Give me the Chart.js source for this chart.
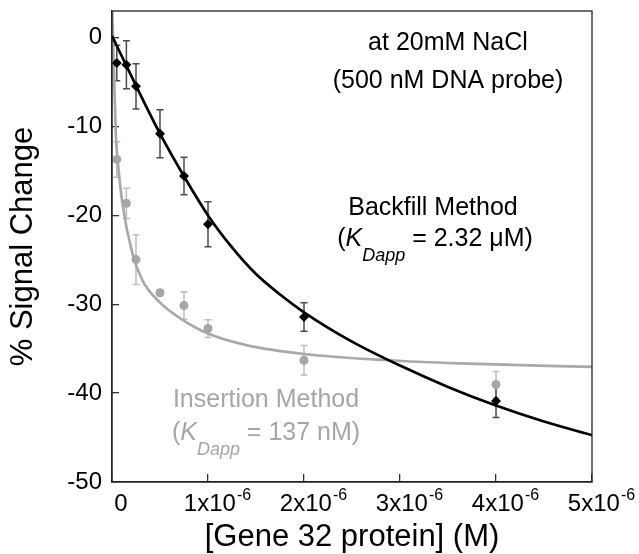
<!DOCTYPE html>
<html>
<head>
<meta charset="utf-8">
<script src="https://cdn.jsdelivr.net/npm/chart.js@4/dist/chart.umd.min.js"></script>
<style>
html,body{margin:0;padding:0;background:#fff;}
canvas{display:block;}
</style>
</head>
<body>
<canvas id="c" width="639" height="554"></canvas>
<script>
// ---- data ----
const concentrations = [0.05e-6, 0.15e-6, 0.25e-6, 0.5e-6, 0.75e-6, 1.0e-6, 2.0e-6, 4.0e-6];
const backfillSignal = [-2.85, -3.04, -5.48, -10.8, -15.57, -21.0, -31.43, -40.88];
const backfillError  = [2.0, 2.7, 2.55, 2.7, 2.1, 2.53, 1.6, 1.87];
const insertionSignal = [-13.7, -18.64, -24.97, -28.7, -30.15, -32.73, -36.3, -39.03];
const insertionError  = [2.0, 1.7, 2.8, 0.3, 1.55, 1.0, 1.67, 1.46];

// fitted curves
const backfillFitX = [0, 0.25e-6, 0.5e-6, 0.75e-6, 1.0e-6, 1.25e-6, 1.5e-6, 1.75e-6, 2.0e-6, 2.5e-6, 3.0e-6, 3.5e-6, 4.0e-6, 4.5e-6, 5.0e-6];
const backfillFitY = [0.2, -5.4, -10.8, -15.6, -20.0, -23.6, -26.6, -28.9, -30.9, -34.2, -36.9, -39.3, -41.4, -43.2, -44.74];
const insertionFitX = [0.003e-6, 0.04e-6, 0.056e-6, 0.109e-6, 0.213e-6, 0.317e-6, 0.49e-6, 0.70e-6, 1.0e-6, 1.4e-6, 2.0e-6, 2.875e-6, 3.62e-6, 5.0e-6];
const insertionFitY = [3.0, -11.0, -13.4, -18.7, -24.3, -27.3, -29.7, -31.5, -33.3, -34.6, -35.6, -36.3, -36.65, -37.05];

const xTickValues = [0, 1e-6, 2e-6, 3e-6, 4e-6, 5e-6];
const xTickBase = ['0', '1x10', '2x10', '3x10', '4x10', '5x10'];
const xTickExp  = ['', '-6', '-6', '-6', '-6', '-6'];
const yTickValues = [-50, -40, -30, -20, -10, 0];

const FAMILY = "'Liberation Sans', Arial, Helvetica, sans-serif";
const GRAY = '#a6a6a6';

const pts = (xs, ys) => xs.map((x, i) => ({x: x, y: ys[i]}));

// frame (top/right sides of the box)
const framePlugin = {
  id: 'frame',
  afterDraw(chart) {
    const {ctx, chartArea: a} = chart;
    ctx.save();
    ctx.strokeStyle = '#222';
    ctx.lineWidth = 1.3;
    ctx.strokeRect(a.left, a.top, a.right - a.left, a.bottom - a.top);
    ctx.restore();
  }
};

// error bars drawn through the chart's scales
const errorBarPlugin = {
  id: 'errbars',
  beforeDatasetsDraw(chart) {
    const {ctx, scales: {x, y}} = chart;
    const draw = (xs, ys, es, color) => {
      ctx.save();
      ctx.strokeStyle = color;
      ctx.lineWidth = 1.5;
      xs.forEach((xv, i) => {
        const px = x.getPixelForValue(xv);
        const p1 = y.getPixelForValue(ys[i] + es[i]);
        const p2 = y.getPixelForValue(ys[i] - es[i]);
        ctx.beginPath();
        ctx.moveTo(px, p1); ctx.lineTo(px, p2);
        ctx.moveTo(px - 3.5, p1); ctx.lineTo(px + 3.5, p1);
        ctx.moveTo(px - 3.5, p2); ctx.lineTo(px + 3.5, p2);
        ctx.stroke();
      });
      ctx.restore();
    };
    draw(concentrations, insertionSignal, insertionError, '#bdbdbd');
    draw(concentrations, backfillSignal, backfillError, '#4a4a4a');
  }
};

// x tick labels with superscript exponent
const xLabelPlugin = {
  id: 'xlabels',
  afterDraw(chart) {
    const {ctx, scales: {x}} = chart;
    ctx.save();
    ctx.fillStyle = '#000';
    ctx.textBaseline = 'alphabetic';
    ctx.textAlign = 'left';
    xTickValues.forEach((v, i) => {
      const cx = x.getPixelForValue(v) + 9;
      ctx.font = '24px ' + FAMILY;
      const wb = ctx.measureText(xTickBase[i]).width;
      ctx.font = '16px ' + FAMILY;
      const we = xTickExp[i] ? ctx.measureText(xTickExp[i]).width : 0;
      const start = cx - (wb + we) / 2;
      ctx.font = '24px ' + FAMILY;
      ctx.fillText(xTickBase[i], start, 511);
      if (xTickExp[i]) {
        ctx.font = '16px ' + FAMILY;
        ctx.fillText(xTickExp[i], start + wb + 1, 500);
      }
    });
    ctx.restore();
  }
};

// annotation texts
function drawKLine(ctx, cx, baseline, value, color) {
  const big = '25px ' + FAMILY, it = 'italic 25px ' + FAMILY, sub = 'italic 18px ' + FAMILY;
  ctx.font = big; const w1 = ctx.measureText('(').width;
  ctx.font = it; const w2 = ctx.measureText('K').width;
  ctx.font = sub; const w3 = ctx.measureText('Dapp').width;
  ctx.font = big; const w4 = ctx.measureText(' = ' + value + ')').width;
  let x0 = cx - (w1 + w2 + w3 + w4) / 2;
  ctx.fillStyle = color;
  ctx.textAlign = 'left';
  ctx.font = big; ctx.fillText('(', x0, baseline); x0 += w1;
  ctx.font = it; ctx.fillText('K', x0, baseline); x0 += w2;
  ctx.font = sub; ctx.fillText('Dapp', x0, baseline + 15); x0 += w3;
  ctx.font = big; ctx.fillText(' = ' + value + ')', x0, baseline);
}
const textPlugin = {
  id: 'notes',
  afterDraw(chart) {
    const {ctx} = chart;
    ctx.save();
    ctx.textBaseline = 'alphabetic';
    ctx.textAlign = 'center';
    ctx.fillStyle = '#000';
    ctx.font = '25px ' + FAMILY;
    ctx.fillText('at 20mM NaCl', 448, 50);
    ctx.fillText('(500 nM DNA probe)', 448, 88);
    ctx.fillText('Backfill Method', 433, 215);
    drawKLine(ctx, 435, 246, '2.32 \u03BCM', '#000');
    ctx.textAlign = 'center';
    ctx.fillStyle = GRAY;
    ctx.font = '25px ' + FAMILY;
    ctx.fillText('Insertion Method', 266, 407);
    drawKLine(ctx, 266, 440, '137 nM', GRAY);
    ctx.restore();
  }
};

const noPad = s => { s.paddingTop = 0; s.paddingBottom = 0; s.paddingLeft = 0; s.paddingRight = 0; };

new Chart(document.getElementById('c'), {
  type: 'scatter',
  data: {
    datasets: [
      {label: 'Backfill Method', data: pts(concentrations, backfillSignal), pointStyle: 'rectRot', pointRadius: 5,
       backgroundColor: '#000', borderColor: '#000', borderWidth: 0, showLine: false},
      {label: 'Insertion Method', data: pts(concentrations, insertionSignal), pointStyle: 'circle', pointRadius: 4.5,
       backgroundColor: GRAY, borderColor: GRAY, borderWidth: 0, showLine: false},
      {label: 'Backfill fit', data: pts(backfillFitX, backfillFitY), showLine: true, pointRadius: 0,
       borderColor: '#000', borderWidth: 2.7, cubicInterpolationMode: 'monotone', fill: false},
      {label: 'Insertion fit', data: pts(insertionFitX, insertionFitY), showLine: true, pointRadius: 0,
       borderColor: '#a9a9a9', borderWidth: 2.7, cubicInterpolationMode: 'monotone', fill: false}
    ]
  },
  options: {
    responsive: false,
    animation: false,
    events: [],
    layout: {padding: {top: 11, right: 47, left: 0, bottom: 0}},
    plugins: {legend: {display: false}, tooltip: {enabled: false}},
    scales: {
      x: {
        type: 'linear', min: 0, max: 5e-6,
        afterBuildTicks: s => { s.ticks = xTickValues.map(v => ({value: v})); },
        ticks: {callback: () => '', font: {family: FAMILY, size: 24}},
        grid: {drawOnChartArea: false, tickLength: -8, color: '#333', lineWidth: 1.3},
        border: {color: '#222', width: 1.3},
        title: {display: true, text: '[Gene 32 protein] (M)', color: '#000',
                font: {family: FAMILY, size: 31, lineHeight: 1}, padding: {top: 0, bottom: 1}},
        afterFit: s => { s.height = 72; noPad(s); }
      },
      y: {
        type: 'linear', min: -50, max: 3,
        afterBuildTicks: s => { s.ticks = yTickValues.map(v => ({value: v})); },
        ticks: {callback: v => String(v), color: '#000', padding: 17, font: {family: FAMILY, size: 24}},
        grid: {drawOnChartArea: false, tickLength: -7, color: '#333', lineWidth: 1.3},
        border: {color: '#222', width: 1.3},
        title: {display: true, text: '% Signal Change', color: '#000',
                font: {family: FAMILY, size: 31, lineHeight: 1}, padding: {top: 8, bottom: 0}},
        afterFit: s => { s.width = 112; noPad(s); }
      }
    }
  },
  plugins: [errorBarPlugin, framePlugin, xLabelPlugin, textPlugin]
});
</script>
</body>
</html>
